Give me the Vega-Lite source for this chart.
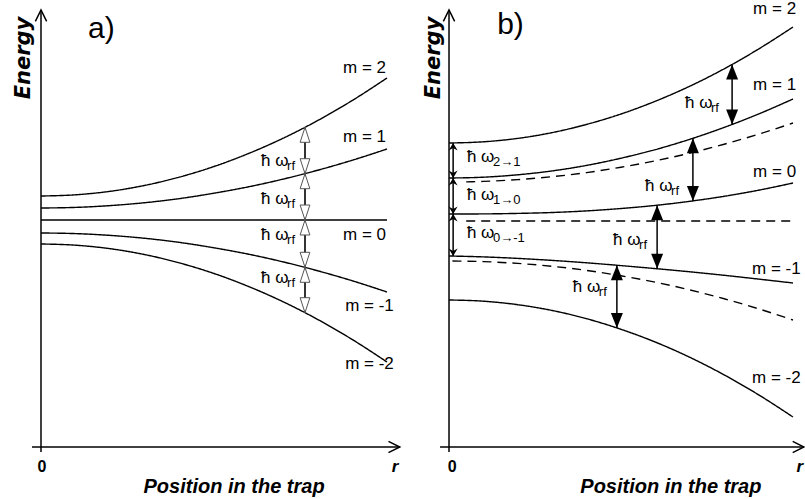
{
  "$schema": "https://vega.github.io/schema/vega-lite/v6.json",
  "padding": 0,
  "spacing": 0,
  "bounds": "flush",
  "background": "white",
  "config": {"view": {"stroke": null}, "text": {"font": "Liberation Sans", "color": "black"}},
  "datasets": {
    "axes": [
      {"panel": "a", "r": 0, "E": 21, "r2": 0, "E2": -23.2},
      {"panel": "a", "r": -0.026, "E": -22.7, "r2": 1.037, "E2": -22.7},
      {"panel": "b", "r": 0, "E": 21, "r2": 0, "E2": -23.2},
      {"panel": "b", "r": -0.026, "E": -22.7, "r2": 1.032, "E2": -22.7}
    ],
    "axisHeads": [
      {"panel": "a", "r": 0, "E": 21, "dir": "up"},
      {"panel": "a", "r": 1.037, "E": -22.7, "dir": "right"},
      {"panel": "b", "r": 0, "E": 21, "dir": "up"},
      {"panel": "b", "r": 1.032, "E": -22.7, "dir": "right"}
    ],
    "curves": [
      {"panel": "a", "curve": "m2", "style": "solid", "r": 0, "E": 2.4},
      {"panel": "a", "curve": "m2", "style": "solid", "r": 0.1, "E": 2.52},
      {"panel": "a", "curve": "m2", "style": "solid", "r": 0.2, "E": 2.87},
      {"panel": "a", "curve": "m2", "style": "solid", "r": 0.3, "E": 3.46},
      {"panel": "a", "curve": "m2", "style": "solid", "r": 0.4, "E": 4.29},
      {"panel": "a", "curve": "m2", "style": "solid", "r": 0.5, "E": 5.35},
      {"panel": "a", "curve": "m2", "style": "solid", "r": 0.6, "E": 6.65},
      {"panel": "a", "curve": "m2", "style": "solid", "r": 0.7, "E": 8.18},
      {"panel": "a", "curve": "m2", "style": "solid", "r": 0.8, "E": 9.95},
      {"panel": "a", "curve": "m2", "style": "solid", "r": 0.9, "E": 11.96},
      {"panel": "a", "curve": "m2", "style": "solid", "r": 1.0, "E": 14.2},
      {"panel": "a", "curve": "m1", "style": "solid", "r": 0, "E": 1.2},
      {"panel": "a", "curve": "m1", "style": "solid", "r": 0.1, "E": 1.26},
      {"panel": "a", "curve": "m1", "style": "solid", "r": 0.2, "E": 1.44},
      {"panel": "a", "curve": "m1", "style": "solid", "r": 0.3, "E": 1.73},
      {"panel": "a", "curve": "m1", "style": "solid", "r": 0.4, "E": 2.14},
      {"panel": "a", "curve": "m1", "style": "solid", "r": 0.5, "E": 2.68},
      {"panel": "a", "curve": "m1", "style": "solid", "r": 0.6, "E": 3.32},
      {"panel": "a", "curve": "m1", "style": "solid", "r": 0.7, "E": 4.09},
      {"panel": "a", "curve": "m1", "style": "solid", "r": 0.8, "E": 4.98},
      {"panel": "a", "curve": "m1", "style": "solid", "r": 0.9, "E": 5.98},
      {"panel": "a", "curve": "m1", "style": "solid", "r": 1.0, "E": 7.1},
      {"panel": "a", "curve": "m0", "style": "solid", "r": 0, "E": 0},
      {"panel": "a", "curve": "m0", "style": "solid", "r": 1.0, "E": 0},
      {"panel": "a", "curve": "mm1", "style": "solid", "r": 0, "E": -1.3},
      {"panel": "a", "curve": "mm1", "style": "solid", "r": 0.1, "E": -1.36},
      {"panel": "a", "curve": "mm1", "style": "solid", "r": 0.2, "E": -1.54},
      {"panel": "a", "curve": "mm1", "style": "solid", "r": 0.3, "E": -1.83},
      {"panel": "a", "curve": "mm1", "style": "solid", "r": 0.4, "E": -2.24},
      {"panel": "a", "curve": "mm1", "style": "solid", "r": 0.5, "E": -2.78},
      {"panel": "a", "curve": "mm1", "style": "solid", "r": 0.6, "E": -3.42},
      {"panel": "a", "curve": "mm1", "style": "solid", "r": 0.7, "E": -4.19},
      {"panel": "a", "curve": "mm1", "style": "solid", "r": 0.8, "E": -5.08},
      {"panel": "a", "curve": "mm1", "style": "solid", "r": 0.9, "E": -6.08},
      {"panel": "a", "curve": "mm1", "style": "solid", "r": 1.0, "E": -7.2},
      {"panel": "a", "curve": "mm2", "style": "solid", "r": 0, "E": -2.4},
      {"panel": "a", "curve": "mm2", "style": "solid", "r": 0.1, "E": -2.52},
      {"panel": "a", "curve": "mm2", "style": "solid", "r": 0.2, "E": -2.87},
      {"panel": "a", "curve": "mm2", "style": "solid", "r": 0.3, "E": -3.46},
      {"panel": "a", "curve": "mm2", "style": "solid", "r": 0.4, "E": -4.29},
      {"panel": "a", "curve": "mm2", "style": "solid", "r": 0.5, "E": -5.35},
      {"panel": "a", "curve": "mm2", "style": "solid", "r": 0.6, "E": -6.65},
      {"panel": "a", "curve": "mm2", "style": "solid", "r": 0.7, "E": -8.18},
      {"panel": "a", "curve": "mm2", "style": "solid", "r": 0.8, "E": -9.95},
      {"panel": "a", "curve": "mm2", "style": "solid", "r": 0.9, "E": -11.96},
      {"panel": "a", "curve": "mm2", "style": "solid", "r": 1.0, "E": -14.2},

      {"panel": "b", "curve": "m2", "style": "solid", "r": 0, "E": 7.7},
      {"panel": "b", "curve": "m2", "style": "solid", "r": 0.1, "E": 7.82},
      {"panel": "b", "curve": "m2", "style": "solid", "r": 0.2, "E": 8.16},
      {"panel": "b", "curve": "m2", "style": "solid", "r": 0.3, "E": 8.74},
      {"panel": "b", "curve": "m2", "style": "solid", "r": 0.4, "E": 9.56},
      {"panel": "b", "curve": "m2", "style": "solid", "r": 0.5, "E": 10.6},
      {"panel": "b", "curve": "m2", "style": "solid", "r": 0.6, "E": 11.88},
      {"panel": "b", "curve": "m2", "style": "solid", "r": 0.7, "E": 13.38},
      {"panel": "b", "curve": "m2", "style": "solid", "r": 0.8, "E": 15.12},
      {"panel": "b", "curve": "m2", "style": "solid", "r": 0.9, "E": 17.1},
      {"panel": "b", "curve": "m2", "style": "solid", "r": 1.0, "E": 19.3},
      {"panel": "b", "curve": "m1", "style": "solid", "r": 0, "E": 4.2},
      {"panel": "b", "curve": "m1", "style": "solid", "r": 0.1, "E": 4.28},
      {"panel": "b", "curve": "m1", "style": "solid", "r": 0.2, "E": 4.52},
      {"panel": "b", "curve": "m1", "style": "solid", "r": 0.3, "E": 4.91},
      {"panel": "b", "curve": "m1", "style": "solid", "r": 0.4, "E": 5.46},
      {"panel": "b", "curve": "m1", "style": "solid", "r": 0.5, "E": 6.18},
      {"panel": "b", "curve": "m1", "style": "solid", "r": 0.6, "E": 7.04},
      {"panel": "b", "curve": "m1", "style": "solid", "r": 0.7, "E": 8.07},
      {"panel": "b", "curve": "m1", "style": "solid", "r": 0.8, "E": 9.26},
      {"panel": "b", "curve": "m1", "style": "solid", "r": 0.9, "E": 10.6},
      {"panel": "b", "curve": "m1", "style": "solid", "r": 1.0, "E": 12.1},
      {"panel": "b", "curve": "d1", "style": "dashed", "r": 0.05, "E": 3.81},
      {"panel": "b", "curve": "d1", "style": "dashed", "r": 0.1, "E": 3.86},
      {"panel": "b", "curve": "d1", "style": "dashed", "r": 0.2, "E": 4.04},
      {"panel": "b", "curve": "d1", "style": "dashed", "r": 0.3, "E": 4.33},
      {"panel": "b", "curve": "d1", "style": "dashed", "r": 0.4, "E": 4.74},
      {"panel": "b", "curve": "d1", "style": "dashed", "r": 0.5, "E": 5.28},
      {"panel": "b", "curve": "d1", "style": "dashed", "r": 0.6, "E": 5.92},
      {"panel": "b", "curve": "d1", "style": "dashed", "r": 0.7, "E": 6.69},
      {"panel": "b", "curve": "d1", "style": "dashed", "r": 0.8, "E": 7.58},
      {"panel": "b", "curve": "d1", "style": "dashed", "r": 0.9, "E": 8.58},
      {"panel": "b", "curve": "d1", "style": "dashed", "r": 1.0, "E": 9.7},
      {"panel": "b", "curve": "m0", "style": "solid", "r": 0, "E": 0.6},
      {"panel": "b", "curve": "m0", "style": "solid", "r": 0.1, "E": 0.61},
      {"panel": "b", "curve": "m0", "style": "solid", "r": 0.2, "E": 0.66},
      {"panel": "b", "curve": "m0", "style": "solid", "r": 0.3, "E": 0.75},
      {"panel": "b", "curve": "m0", "style": "solid", "r": 0.4, "E": 0.91},
      {"panel": "b", "curve": "m0", "style": "solid", "r": 0.5, "E": 1.15},
      {"panel": "b", "curve": "m0", "style": "solid", "r": 0.6, "E": 1.46},
      {"panel": "b", "curve": "m0", "style": "solid", "r": 0.7, "E": 1.87},
      {"panel": "b", "curve": "m0", "style": "solid", "r": 0.8, "E": 2.37},
      {"panel": "b", "curve": "m0", "style": "solid", "r": 0.9, "E": 2.98},
      {"panel": "b", "curve": "m0", "style": "solid", "r": 1.0, "E": 3.7},
      {"panel": "b", "curve": "d0", "style": "dashed", "r": 0.05, "E": -0.1},
      {"panel": "b", "curve": "d0", "style": "dashed", "r": 1.0, "E": -0.1},
      {"panel": "b", "curve": "mm1", "style": "solid", "r": 0, "E": -3.6},
      {"panel": "b", "curve": "mm1", "style": "solid", "r": 0.1, "E": -3.69},
      {"panel": "b", "curve": "mm1", "style": "solid", "r": 0.2, "E": -3.84},
      {"panel": "b", "curve": "mm1", "style": "solid", "r": 0.3, "E": -4.04},
      {"panel": "b", "curve": "mm1", "style": "solid", "r": 0.4, "E": -4.28},
      {"panel": "b", "curve": "mm1", "style": "solid", "r": 0.5, "E": -4.56},
      {"panel": "b", "curve": "mm1", "style": "solid", "r": 0.6, "E": -4.86},
      {"panel": "b", "curve": "mm1", "style": "solid", "r": 0.7, "E": -5.18},
      {"panel": "b", "curve": "mm1", "style": "solid", "r": 0.8, "E": -5.53},
      {"panel": "b", "curve": "mm1", "style": "solid", "r": 0.9, "E": -5.91},
      {"panel": "b", "curve": "mm1", "style": "solid", "r": 1.0, "E": -6.3},
      {"panel": "b", "curve": "dm1", "style": "dashed", "r": 0.01, "E": -4.1},
      {"panel": "b", "curve": "dm1", "style": "dashed", "r": 0.1, "E": -4.16},
      {"panel": "b", "curve": "dm1", "style": "dashed", "r": 0.2, "E": -4.34},
      {"panel": "b", "curve": "dm1", "style": "dashed", "r": 0.3, "E": -4.63},
      {"panel": "b", "curve": "dm1", "style": "dashed", "r": 0.4, "E": -5.04},
      {"panel": "b", "curve": "dm1", "style": "dashed", "r": 0.5, "E": -5.58},
      {"panel": "b", "curve": "dm1", "style": "dashed", "r": 0.6, "E": -6.22},
      {"panel": "b", "curve": "dm1", "style": "dashed", "r": 0.7, "E": -6.99},
      {"panel": "b", "curve": "dm1", "style": "dashed", "r": 0.8, "E": -7.88},
      {"panel": "b", "curve": "dm1", "style": "dashed", "r": 0.9, "E": -8.88},
      {"panel": "b", "curve": "dm1", "style": "dashed", "r": 1.0, "E": -10.0},
      {"panel": "b", "curve": "mm2", "style": "solid", "r": 0, "E": -8.0},
      {"panel": "b", "curve": "mm2", "style": "solid", "r": 0.1, "E": -8.12},
      {"panel": "b", "curve": "mm2", "style": "solid", "r": 0.2, "E": -8.47},
      {"panel": "b", "curve": "mm2", "style": "solid", "r": 0.3, "E": -9.05},
      {"panel": "b", "curve": "mm2", "style": "solid", "r": 0.4, "E": -9.87},
      {"panel": "b", "curve": "mm2", "style": "solid", "r": 0.5, "E": -10.93},
      {"panel": "b", "curve": "mm2", "style": "solid", "r": 0.6, "E": -12.21},
      {"panel": "b", "curve": "mm2", "style": "solid", "r": 0.7, "E": -13.73},
      {"panel": "b", "curve": "mm2", "style": "solid", "r": 0.8, "E": -15.49},
      {"panel": "b", "curve": "mm2", "style": "solid", "r": 0.9, "E": -17.48},
      {"panel": "b", "curve": "mm2", "style": "solid", "r": 1.0, "E": -19.7}
    ],
    "arrows": [
      {"panel": "a", "kind": "rf", "r": 0.763, "E": 9.27, "E2": 4.63},
      {"panel": "a", "kind": "rf", "r": 0.763, "E": 4.63, "E2": 0},
      {"panel": "a", "kind": "rf", "r": 0.763, "E": 0, "E2": -4.73},
      {"panel": "a", "kind": "rf", "r": 0.763, "E": -4.73, "E2": -9.27},
      {"panel": "b", "kind": "rf", "r": 0.823, "E": 15.55, "E2": 9.55},
      {"panel": "b", "kind": "rf", "r": 0.709, "E": 8.17, "E2": 1.91},
      {"panel": "b", "kind": "rf", "r": 0.605, "E": 1.48, "E2": -4.87},
      {"panel": "b", "kind": "rf", "r": 0.488, "E": -4.52, "E2": -10.79},
      {"panel": "b", "kind": "level", "r": 0.012, "E": 7.7, "E2": 4.2},
      {"panel": "b", "kind": "level", "r": 0.012, "E": 4.2, "E2": 0.6},
      {"panel": "b", "kind": "level", "r": 0.012, "E": 0.6, "E2": -3.6}
    ],
    "labels": [
      {"panel": "a", "kind": "m", "text": "m = 2", "r": 0.873, "E": 15.2},
      {"panel": "a", "kind": "m", "text": "m = 1", "r": 0.873, "E": 8.3},
      {"panel": "a", "kind": "m", "text": "m = 0", "r": 0.873, "E": -1.5},
      {"panel": "a", "kind": "m", "text": "m = -1", "r": 0.879, "E": -8.6},
      {"panel": "a", "kind": "m", "text": "m = -2", "r": 0.879, "E": -14.4},
      {"panel": "a", "kind": "hw", "text": "ħ ω", "sub": "rf", "r": 0.636, "E": 5.9},
      {"panel": "a", "kind": "hw", "text": "ħ ω", "sub": "rf", "r": 0.636, "E": 2.1},
      {"panel": "a", "kind": "hw", "text": "ħ ω", "sub": "rf", "r": 0.636, "E": -1.5},
      {"panel": "a", "kind": "hw", "text": "ħ ω", "sub": "rf", "r": 0.636, "E": -5.8},
      {"panel": "a", "kind": "panel", "text": "a)", "r": 0.136, "E": 18.2},
      {"panel": "a", "kind": "ytitle", "text": "Energy", "r": -0.049, "E": 16.2},
      {"panel": "a", "kind": "xtitle", "text": "Position in the trap", "r": 0.558, "E": -26.7},
      {"panel": "a", "kind": "zero", "text": "0", "r": 0.003, "E": -24.7},
      {"panel": "a", "kind": "rlab", "text": "r", "r": 1.023, "E": -24.7},
      {"panel": "b", "kind": "m", "text": "m = 2", "r": 0.884, "E": 21.1},
      {"panel": "b", "kind": "m", "text": "m = 1", "r": 0.884, "E": 13.5},
      {"panel": "b", "kind": "m", "text": "m = 0", "r": 0.884, "E": 4.8},
      {"panel": "b", "kind": "m", "text": "m = -1", "r": 0.881, "E": -4.9},
      {"panel": "b", "kind": "m", "text": "m = -2", "r": 0.881, "E": -15.8},
      {"panel": "b", "kind": "hw", "text": "ħ ω", "sub": "rf", "r": 0.686, "E": 11.7},
      {"panel": "b", "kind": "hw", "text": "ħ ω", "sub": "rf", "r": 0.57, "E": 3.4},
      {"panel": "b", "kind": "hw", "text": "ħ ω", "sub": "rf", "r": 0.477, "E": -2.0},
      {"panel": "b", "kind": "hw", "text": "ħ ω", "sub": "rf", "r": 0.36, "E": -6.7},
      {"panel": "b", "kind": "hw", "text": "ħ ω", "sub": "2→1", "r": 0.052, "E": 6.3},
      {"panel": "b", "kind": "hw", "text": "ħ ω", "sub": "1→0", "r": 0.052, "E": 2.5},
      {"panel": "b", "kind": "hw", "text": "ħ ω", "sub": "0→-1", "r": 0.052, "E": -1.3},
      {"panel": "b", "kind": "panel", "text": "b)", "r": 0.14, "E": 18.6},
      {"panel": "b", "kind": "ytitle", "text": "Energy", "r": -0.044, "E": 16.2},
      {"panel": "b", "kind": "xtitle", "text": "Position in the trap", "r": 0.645, "E": -26.7},
      {"panel": "b", "kind": "zero", "text": "0", "r": 0.009, "E": -24.7},
      {"panel": "b", "kind": "rlab", "text": "r", "r": 1.02, "E": -24.7}
    ]
  },
  "hconcat": [
    {
      "width": 410,
      "height": 499,
      "encoding": {
        "x": {"field": "r", "type": "quantitative", "scale": {"domain": [-0.1185, 1.0665], "nice": false, "zero": false}, "axis": null},
        "y": {"field": "E", "type": "quantitative", "scale": {"domain": [-27.9, 22], "nice": false, "zero": false}, "axis": null}
      },
      "layer": [
        {"data": {"name": "axes"}, "transform": [{"filter": "datum.panel === 'a'"}],
         "mark": {"type": "rule", "strokeWidth": 1.5, "color": "black"},
         "encoding": {"x2": {"field": "r2"}, "y2": {"field": "E2"}}},
        {"data": {"name": "axisHeads"}, "transform": [{"filter": "datum.panel === 'a'"}],
         "mark": {"type": "point", "filled": false, "color": "black", "strokeWidth": 1.5, "size": 200, "opacity": 1},
         "encoding": {"shape": {"field": "dir", "type": "nominal", "scale": {"domain": ["up", "right"], "range": ["M-0.8,1.6L0,0L0.8,1.6", "M-1.6,-0.8L0,0L-1.6,0.8"]}, "legend": null}}},
        {"data": {"name": "curves"}, "transform": [{"filter": "datum.panel === 'a'"}],
         "mark": {"type": "line", "interpolate": "monotone", "strokeWidth": 1.4, "color": "black"},
         "encoding": {"detail": {"field": "curve"}, "strokeDash": {"field": "style", "type": "nominal", "scale": {"domain": ["solid", "dashed"], "range": [[1, 0], [9, 6]]}, "legend": null}}},
        {"data": {"name": "arrows"}, "transform": [{"filter": "datum.panel === 'a'"}],
         "mark": {"type": "rule", "strokeWidth": 2, "color": "#333"},
         "encoding": {"y2": {"field": "E2"}}},
        {"data": {"name": "arrows"}, "transform": [{"filter": "datum.panel === 'a'"}, {"fold": ["E", "E2"], "as": ["end", "Ev"]}],
         "mark": {"type": "point", "filled": true, "fill": "white", "stroke": "#555", "strokeWidth": 1, "size": 225, "opacity": 1},
         "encoding": {
           "y": {"field": "Ev", "type": "quantitative", "scale": {"domain": [-27.9, 22], "nice": false, "zero": false}, "axis": null},
           "shape": {"field": "end", "type": "nominal", "scale": {"domain": ["E", "E2"], "range": ["M0,0L0.65,2L-0.65,2Z", "M0,0L0.65,-2L-0.65,-2Z"]}, "legend": null}}},
        {"data": {"name": "labels"}, "transform": [{"filter": "datum.panel === 'a' && datum.kind === 'm'"}],
         "mark": {"type": "text", "align": "left", "baseline": "middle", "fontSize": 17},
         "encoding": {"text": {"field": "text"}}},
        {"data": {"name": "labels"}, "transform": [{"filter": "datum.panel === 'a' && datum.kind === 'hw'"}],
         "mark": {"type": "text", "align": "left", "baseline": "middle", "fontSize": 17},
         "encoding": {"text": {"field": "text"}}},
        {"data": {"name": "labels"}, "transform": [{"filter": "datum.panel === 'a' && datum.kind === 'hw'"}],
         "mark": {"type": "text", "align": "left", "baseline": "middle", "fontSize": 13, "dx": 26, "dy": 5},
         "encoding": {"text": {"field": "sub"}}},
        {"data": {"name": "labels"}, "transform": [{"filter": "datum.panel === 'a' && datum.kind === 'panel'"}],
         "mark": {"type": "text", "align": "left", "baseline": "alphabetic", "fontSize": 30},
         "encoding": {"text": {"field": "text"}}},
        {"data": {"name": "labels"}, "transform": [{"filter": "datum.panel === 'a' && datum.kind === 'ytitle'"}],
         "mark": {"type": "text", "align": "center", "baseline": "middle", "angle": 270, "fontSize": 21, "font": "DejaVu Sans", "fontWeight": "bold", "fontStyle": "italic"},
         "encoding": {"text": {"field": "text"}}},
        {"data": {"name": "labels"}, "transform": [{"filter": "datum.panel === 'a' && datum.kind === 'xtitle'"}],
         "mark": {"type": "text", "align": "center", "baseline": "middle", "fontSize": 20, "fontWeight": "bold", "fontStyle": "italic"},
         "encoding": {"text": {"field": "text"}}},
        {"data": {"name": "labels"}, "transform": [{"filter": "datum.panel === 'a' && datum.kind === 'zero'"}],
         "mark": {"type": "text", "align": "center", "baseline": "middle", "fontSize": 16, "fontWeight": "bold"},
         "encoding": {"text": {"field": "text"}}},
        {"data": {"name": "labels"}, "transform": [{"filter": "datum.panel === 'a' && datum.kind === 'rlab'"}],
         "mark": {"type": "text", "align": "center", "baseline": "middle", "fontSize": 17, "fontWeight": "bold", "fontStyle": "italic"},
         "encoding": {"text": {"field": "text"}}}
      ],
      "resolve": {"scale": {"shape": "independent", "strokeDash": "independent"}}
    },
    {
      "width": 395,
      "height": 499,
      "encoding": {
        "x": {"field": "r", "type": "quantitative", "scale": {"domain": [-0.1134, 1.0349], "nice": false, "zero": false}, "axis": null},
        "y": {"field": "E", "type": "quantitative", "scale": {"domain": [-27.9, 22], "nice": false, "zero": false}, "axis": null}
      },
      "layer": [
        {"data": {"name": "axes"}, "transform": [{"filter": "datum.panel === 'b'"}],
         "mark": {"type": "rule", "strokeWidth": 1.5, "color": "black"},
         "encoding": {"x2": {"field": "r2"}, "y2": {"field": "E2"}}},
        {"data": {"name": "axisHeads"}, "transform": [{"filter": "datum.panel === 'b'"}],
         "mark": {"type": "point", "filled": false, "color": "black", "strokeWidth": 1.5, "size": 200, "opacity": 1},
         "encoding": {"shape": {"field": "dir", "type": "nominal", "scale": {"domain": ["up", "right"], "range": ["M-0.8,1.6L0,0L0.8,1.6", "M-1.6,-0.8L0,0L-1.6,0.8"]}, "legend": null}}},
        {"data": {"name": "curves"}, "transform": [{"filter": "datum.panel === 'b'"}],
         "mark": {"type": "line", "interpolate": "monotone", "strokeWidth": 1.4, "color": "black"},
         "encoding": {"detail": {"field": "curve"}, "strokeDash": {"field": "style", "type": "nominal", "scale": {"domain": ["solid", "dashed"], "range": [[1, 0], [9, 6]]}, "legend": null}}},
        {"data": {"name": "arrows"}, "transform": [{"filter": "datum.panel === 'b'"}],
         "mark": {"type": "rule", "strokeWidth": 1.5, "color": "black"},
         "encoding": {"y2": {"field": "E2"}}},
        {"data": {"name": "arrows"}, "transform": [{"filter": "datum.panel === 'b' && datum.kind === 'rf'"}, {"fold": ["E", "E2"], "as": ["end", "Ev"]}],
         "mark": {"type": "point", "filled": true, "color": "black", "size": 225, "opacity": 1},
         "encoding": {
           "y": {"field": "Ev", "type": "quantitative", "scale": {"domain": [-27.9, 22], "nice": false, "zero": false}, "axis": null},
           "shape": {"field": "end", "type": "nominal", "scale": {"domain": ["E", "E2"], "range": ["M0,0L0.8,2L-0.8,2Z", "M0,0L0.8,-2L-0.8,-2Z"]}, "legend": null}}},
        {"data": {"name": "arrows"}, "transform": [{"filter": "datum.panel === 'b' && datum.kind === 'level'"}, {"fold": ["E", "E2"], "as": ["end", "Ev"]}],
         "mark": {"type": "point", "filled": true, "color": "black", "size": 100, "opacity": 1},
         "encoding": {
           "y": {"field": "Ev", "type": "quantitative", "scale": {"domain": [-27.9, 22], "nice": false, "zero": false}, "axis": null},
           "shape": {"field": "end", "type": "nominal", "scale": {"domain": ["E", "E2"], "range": ["M0,0L0.9,1.5L0,1L-0.9,1.5Z", "M0,0L0.9,-1.5L0,-1L-0.9,-1.5Z"]}, "legend": null}}},
        {"data": {"name": "labels"}, "transform": [{"filter": "datum.panel === 'b' && datum.kind === 'm'"}],
         "mark": {"type": "text", "align": "left", "baseline": "middle", "fontSize": 17},
         "encoding": {"text": {"field": "text"}}},
        {"data": {"name": "labels"}, "transform": [{"filter": "datum.panel === 'b' && datum.kind === 'hw'"}],
         "mark": {"type": "text", "align": "left", "baseline": "middle", "fontSize": 17},
         "encoding": {"text": {"field": "text"}}},
        {"data": {"name": "labels"}, "transform": [{"filter": "datum.panel === 'b' && datum.kind === 'hw'"}],
         "mark": {"type": "text", "align": "left", "baseline": "middle", "fontSize": 13, "dx": 26, "dy": 5},
         "encoding": {"text": {"field": "sub"}}},
        {"data": {"name": "labels"}, "transform": [{"filter": "datum.panel === 'b' && datum.kind === 'panel'"}],
         "mark": {"type": "text", "align": "left", "baseline": "alphabetic", "fontSize": 30},
         "encoding": {"text": {"field": "text"}}},
        {"data": {"name": "labels"}, "transform": [{"filter": "datum.panel === 'b' && datum.kind === 'ytitle'"}],
         "mark": {"type": "text", "align": "center", "baseline": "middle", "angle": 270, "fontSize": 21, "font": "DejaVu Sans", "fontWeight": "bold", "fontStyle": "italic"},
         "encoding": {"text": {"field": "text"}}},
        {"data": {"name": "labels"}, "transform": [{"filter": "datum.panel === 'b' && datum.kind === 'xtitle'"}],
         "mark": {"type": "text", "align": "center", "baseline": "middle", "fontSize": 20, "fontWeight": "bold", "fontStyle": "italic"},
         "encoding": {"text": {"field": "text"}}},
        {"data": {"name": "labels"}, "transform": [{"filter": "datum.panel === 'b' && datum.kind === 'zero'"}],
         "mark": {"type": "text", "align": "center", "baseline": "middle", "fontSize": 16, "fontWeight": "bold"},
         "encoding": {"text": {"field": "text"}}},
        {"data": {"name": "labels"}, "transform": [{"filter": "datum.panel === 'b' && datum.kind === 'rlab'"}],
         "mark": {"type": "text", "align": "center", "baseline": "middle", "fontSize": 17, "fontWeight": "bold", "fontStyle": "italic"},
         "encoding": {"text": {"field": "text"}}}
      ],
      "resolve": {"scale": {"shape": "independent", "strokeDash": "independent"}}
    }
  ]
}
